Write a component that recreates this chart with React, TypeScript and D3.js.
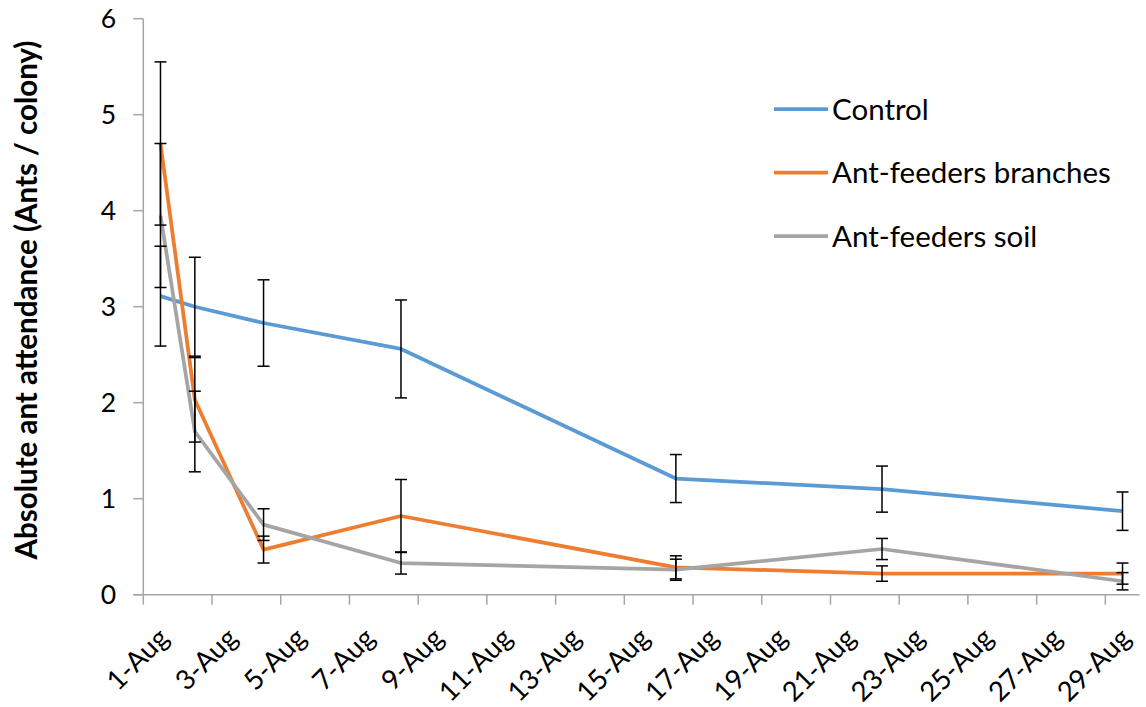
import React from 'react';
import * as d3 from 'd3';

// ---- data ----
const sampleDays = [1, 2, 4, 8, 16, 22, 29]; // day of August
const tickDays = [1, 3, 5, 7, 9, 11, 13, 15, 17, 19, 21, 23, 25, 27, 29];
const tickLabels = ['1-Aug', '3-Aug', '5-Aug', '7-Aug', '9-Aug', '11-Aug', '13-Aug', '15-Aug', '17-Aug', '19-Aug', '21-Aug', '23-Aug', '25-Aug', '27-Aug', '29-Aug'];
const yTicks = [0, 1, 2, 3, 4, 5, 6];

const controlMean = [3.11, 3.0, 2.83, 2.56, 1.21, 1.1, 0.87];
const controlErr = [0.52, 0.515, 0.45, 0.51, 0.25, 0.24, 0.2];
const branchesMean = [4.7, 2.03, 0.47, 0.82, 0.285, 0.22, 0.22];
const branchesErr = [0.85, 0.44, 0.14, 0.38, 0.12, 0.08, 0.11];
const soilMean = [3.95, 1.7, 0.73, 0.33, 0.26, 0.476, 0.14];
const soilErr = [0.75, 0.42, 0.165, 0.115, 0.11, 0.11, 0.09];

const seriesNames = ['Control', 'Ant-feeders branches', 'Ant-feeders soil'];
const seriesColors = ['#5B9BD5', '#ED7D31', '#A5A5A5'];

const yTitle = 'Absolute ant attendance (Ants / colony)';

export default function App() {
  const W = 1146, H = 707;
  const left = 143.3, right = 1139.7, top = 18.7, bottom = 594.7;
  const x = d3.scaleLinear().domain([1, 30]).range([left, right]);
  const y = d3.scaleLinear().domain([0, 6]).range([bottom, top]);
  const font = 'Lato, "Open Sans", sans-serif';

  const series = [
    { name: seriesNames[0], color: seriesColors[0], mean: controlMean, err: controlErr },
    { name: seriesNames[1], color: seriesColors[1], mean: branchesMean, err: branchesErr },
    { name: seriesNames[2], color: seriesColors[2], mean: soilMean, err: soilErr },
  ];

  const line = d3.line<number>()
    .x((_, i) => x(sampleDays[i] + 0.5))
    .y(d => y(d));

  const axisColor = '#A6A6A6';
  const cap = 6;

  return (
    <svg width={W} height={H} style={{ position: 'absolute', left: 0, top: 0, background: '#fff' }}>
      {/* y axis */}
      <line x1={left} x2={left} y1={top} y2={bottom} stroke={axisColor} strokeWidth={1.5} />
      {yTicks.map(t => (
        <g key={t}>
          <line x1={left - 10} x2={left} y1={y(t)} y2={y(t)} stroke={axisColor} strokeWidth={1.5} />
          <text x={116} y={y(t)} dy="0.36em" textAnchor="end" fontFamily={font} fontSize={26.5} fill="#000">{t}</text>
        </g>
      ))}
      {/* x axis */}
      <line x1={left - 10} x2={right} y1={bottom} y2={bottom} stroke={axisColor} strokeWidth={1.5} />
      {tickDays.map((d, i) => (
        <g key={d}>
          <line x1={x(d)} x2={x(d)} y1={bottom} y2={bottom + 10} stroke={axisColor} strokeWidth={1.5} />
          <text transform={`translate(${x(d) + 27},${bottom + 45}) rotate(-45)`} textAnchor="end"
            fontFamily={font} fontSize={27.5} fill="#000">{tickLabels[i]}</text>
        </g>
      ))}
      {/* lines */}
      {series.map(s => (
        <path key={s.name} d={line(s.mean) || ''} fill="none" stroke={s.color} strokeWidth={3.75} strokeLinejoin="round" />
      ))}
      {/* error bars */}
      {series.map(s => (
        <g key={s.name + '-err'}>
          {s.mean.map((m, i) => {
            const cx = x(sampleDays[i] + 0.5);
            const y1 = y(m + s.err[i]);
            const y2 = y(Math.max(0, m - s.err[i]));
            return (
              <g key={i} stroke="#000" strokeWidth={1.5}>
                <line x1={cx} x2={cx} y1={y1} y2={y2} />
                <line x1={cx - cap} x2={cx + cap} y1={y1} y2={y1} />
                <line x1={cx - cap} x2={cx + cap} y1={y2} y2={y2} />
              </g>
            );
          })}
        </g>
      ))}
      {/* legend */}
      {series.map((s, i) => {
        const ly = 109 + i * 63.5;
        return (
          <g key={s.name + '-leg'}>
            <line x1={774} x2={828} y1={ly} y2={ly} stroke={s.color} strokeWidth={3.75} />
            <text x={832} y={ly} dy="0.36em" fontFamily={font} fontSize={29.5} fill="#000">{s.name}</text>
          </g>
        );
      })}
      {/* y title */}
      <text transform={`translate(37,300) rotate(-90)`} textAnchor="middle" fontFamily={font}
        fontWeight="bold" fontSize={29.5} fill="#000">{yTitle}</text>
    </svg>
  );
}
